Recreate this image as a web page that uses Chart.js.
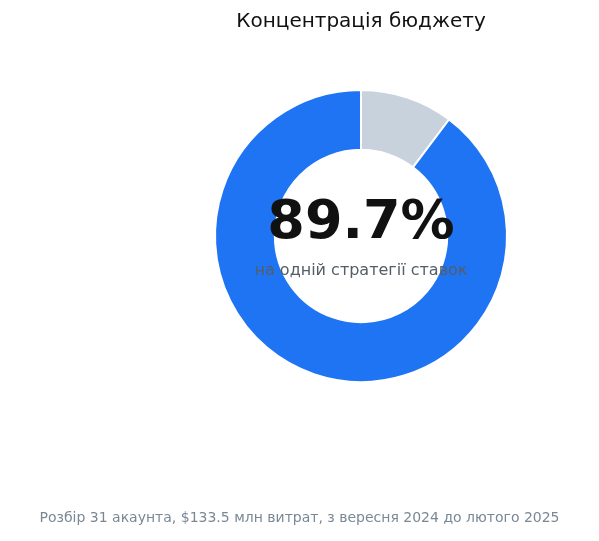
<!DOCTYPE html>
<html>
<head>
<meta charset="utf-8">
<script src="https://cdn.jsdelivr.net/npm/chart.js@4"></script>
<style>
  html, body { margin: 0; padding: 0; background: #fff; }
  #wrap { width: 599px; height: 541px; }
</style>
</head>
<body>
<div id="wrap"><canvas id="chart" width="599" height="541"></canvas></div>
<script>
const labels = ['Інші стратегії', 'Одна стратегія ставок'];
const shares = [10.3, 89.7];
const colors = ['#c8d2dc', '#1f74f4'];
const centerValue = '89.7%';
const centerLabel = 'на одній стратегії ставок';
const footerText = 'Розбір 31 акаунта, $133.5 млн витрат, з вересня 2024 до лютого 2025';

const centerText = {
  id: 'centerText',
  afterDraw(chart) {
    const ctx = chart.ctx;
    const meta = chart.getDatasetMeta(0).data[0];
    const x = meta.x, y = meta.y;
    ctx.save();
    ctx.textAlign = 'center';
    ctx.textBaseline = 'middle';
    ctx.fillStyle = '#111';
    ctx.font = 'bold 54px "DejaVu Sans"';
    ctx.fillText(centerValue, x, y - 12);
    ctx.fillStyle = '#555d66';
    ctx.font = '16px "DejaVu Sans"';
    ctx.fillText(centerLabel, x, y + 35);
    ctx.fillStyle = '#7a8896';
    ctx.font = '14px "DejaVu Sans"';
    ctx.fillText(footerText, chart.width / 2, 518);
    ctx.restore();
  }
};

new Chart(document.getElementById('chart'), {
  type: 'doughnut',
  data: {
    labels,
    datasets: [{
      data: shares,
      backgroundColor: colors,
      borderColor: '#fff',
      borderWidth: 2
    }]
  },
  options: {
    responsive: false,
    animation: false,
    cutout: '59%',
    layout: { padding: { left: 123, top: 10, bottom: 158, right: 0 } },
    plugins: {
      legend: { display: false },
      tooltip: { enabled: false },
      title: {
        display: true,
        text: 'Концентрація бюджету',
        color: '#111',
        font: { family: 'DejaVu Sans', size: 20, weight: 'normal' },
        padding: { top: 0, bottom: 55 }
      }
    }
  },
  plugins: [centerText]
});
</script>
</body>
</html>
